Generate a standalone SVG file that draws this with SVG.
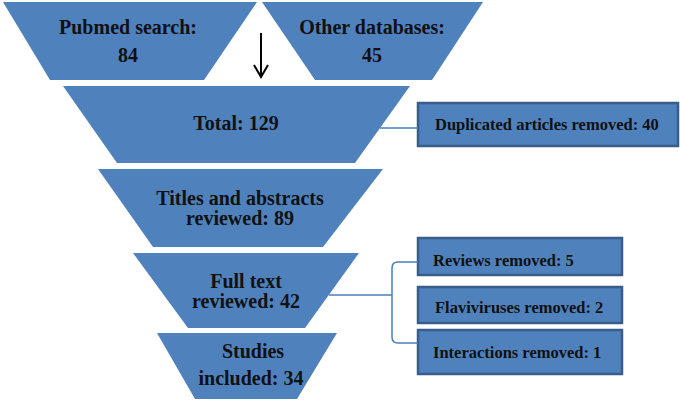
<svg xmlns="http://www.w3.org/2000/svg" width="680" height="401" viewBox="0 0 680 401">
<defs>
<style>
.trap{fill:#4F81BD;stroke:none}
.box{fill:#4F81BD;stroke:#385D8A;stroke-width:2.5}
.t{font-family:"Liberation Serif","Times New Roman",serif;font-weight:bold;font-size:20px;fill:#111;text-anchor:middle}
.s{font-family:"Liberation Serif","Times New Roman",serif;font-weight:bold;font-size:16.5px;fill:#111;text-anchor:start}
.conn{fill:none;stroke:#4A7EBB;stroke-width:1.5}
.arrow{fill:none;stroke:#000;stroke-width:2}
</style>
</defs>
<rect width="680" height="401" fill="#fff"/>
<g id="pubmed">
<polygon class="trap" points="3,2 257,2 204,80 50,80"/>
<text class="t" x="128" y="34">Pubmed search:</text>
<text class="t" x="128" y="62">84</text>
</g>
<g id="other">
<polygon class="trap" points="262,2 483,2 432,80 315,80"/>
<text class="t" x="372" y="34">Other databases:</text>
<text class="t" x="372" y="62">45</text>
</g>
<g id="total">
<polygon class="trap" points="63,86 410,86 355,163 117,163"/>
<text class="t" x="236" y="130">Total: 129</text>
</g>
<g id="titles">
<polygon class="trap" points="98,169 383,169 323,247 153,247"/>
<text class="t" x="240" y="205">Titles and abstracts</text>
<text class="t" x="240" y="225">reviewed: 89</text>
</g>
<g id="fulltext">
<polygon class="trap" points="133,253 359,253 305,328 188,328"/>
<text class="t" x="246" y="288">Full text</text>
<text class="t" x="246" y="308">reviewed: 42</text>
</g>
<g id="studies">
<polygon class="trap" points="157,333 337,333 297,399 195,399"/>
<text class="t" x="253" y="358">Studies</text>
<text class="t" x="251" y="385">included: 34</text>
</g>
<g id="duplicated">
<rect class="box" x="418" y="103" width="260" height="43"/>
<text class="s" x="435" y="130">Duplicated articles removed: 40</text>
</g>
<g id="reviews">
<rect class="box" x="418" y="238" width="204" height="37"/>
<text class="s" x="433" y="266">Reviews removed: 5</text>
</g>
<g id="flavi">
<rect class="box" x="418" y="287" width="204" height="36"/>
<text class="s" x="435" y="313">Flaviviruses removed: 2</text>
</g>
<g id="interactions">
<rect class="box" x="418" y="330" width="204" height="44"/>
<text class="s" x="433" y="358">Interactions removed: 1</text>
</g>
<g id="connectors">
<line class="arrow" x1="261" y1="33" x2="261" y2="77"/>
<polyline class="arrow" points="254,65 261,77 268,65"/>
<line class="conn" x1="380" y1="128" x2="418" y2="128"/>
<line class="conn" x1="329" y1="295" x2="392" y2="295"/>
<path class="conn" d="M418,262 H398 Q392,262 392,268 V337 Q392,343 398,343 H418"/>
</g>
</svg>
